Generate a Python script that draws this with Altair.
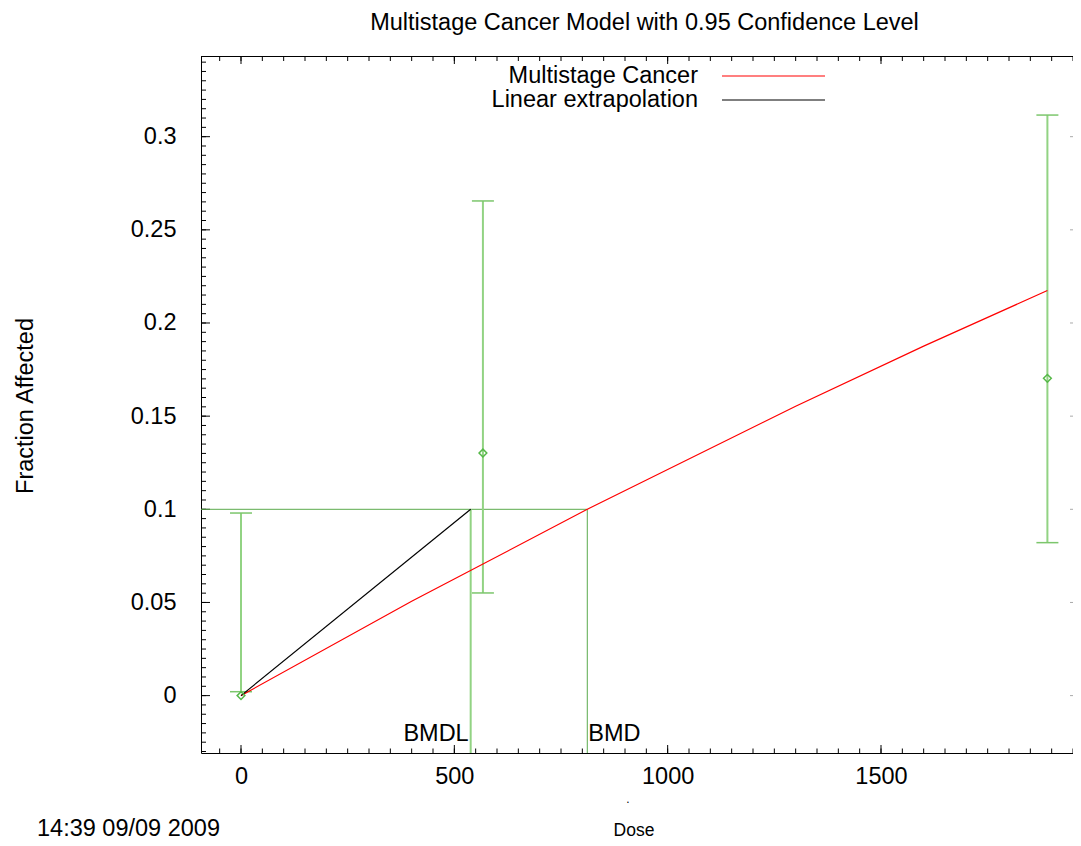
import altair as alt
import pandas as pd

# ---------------- data ----------------
dose = [0, 567, 1890]
frac = [0.0, 0.1302, 0.1703]
lower = [0.0021, 0.0551, 0.0821]
upper = [0.0980, 0.2655, 0.3116]

model_dose = [0, 400, 811.6, 1300, 1600, 1890]
model_frac = [0.0, 0.0506, 0.1, 0.1553, 0.1876, 0.2174]

bmd = 811.6
bmdl = 538.3
bmr = 0.1

x_major = [0, 500, 1000, 1500]
y_major = [0, 0.05, 0.1, 0.15, 0.2, 0.25, 0.3]
x_minor = list(range(-50, 1951, 50))
y_minor = [round(i * 0.005, 3) for i in range(-6, 69)]

title_text = "Multistage Cancer Model with 0.95 Confidence Level"
legend_labels = ["Multistage Cancer", "Linear extrapolation"]
legend_colors = ["#ff0000", "#000000"]
y_title = "Fraction Affected"
x_title = "Dose"
stamp = "14:39 09/09 2009"

# plot area is cut at the right edge of the page, as in the reference
W, H = 872, 697
X_DOMAIN = [-93.75, 1950.0]
Y_DOMAIN = [-0.0308, 0.3433]
FONT = "Liberation Sans"
FS = 23.5
BAR_GREEN = "#92d383"
DARK_GREEN = "#5aaa4c"
PT_GREEN = "#55b848"

xs = alt.Scale(domain=X_DOMAIN, nice=False, zero=False)
ys = alt.Scale(domain=Y_DOMAIN, nice=False, zero=False)

XAX = alt.Axis(values=x_major, format="d", ticks=False, tickSize=0, labelFontSize=FS,
               labelFont=FONT, labelColor="black", labelPadding=11, labelFlush=False,
               labelOverlap=False, domainColor="black", domainWidth=1, grid=False, title="")
YAX = alt.Axis(values=y_major, format="~g", ticks=False, tickSize=0, labelFontSize=FS,
               labelFont=FONT, labelColor="black", labelPadding=25, labelFlush=False,
               labelOverlap=False, domainColor="black", domainWidth=1, grid=False, title="")


def X(field):
    return alt.X(field, scale=xs, axis=XAX, title="")


def Y(field):
    return alt.Y(field, scale=ys, axis=YAX, title="")


pts = pd.DataFrame({"dose": dose, "frac": frac, "lower": lower, "upper": upper})
model = pd.DataFrame({"dose": model_dose, "frac": model_frac})
lin = pd.DataFrame({"dose": [0, bmdl], "frac": [0.0, bmr]})

top_border = alt.Chart(pd.DataFrame({"a": [0]})).mark_rule(color="black", strokeWidth=1).encode(
    x=alt.value(0), x2=alt.value(W), y=alt.value(0.5))

xmaj = pd.DataFrame({"v": x_major})
xmin = pd.DataFrame({"v": x_minor})
ymaj = pd.DataFrame({"v": y_major})
ymin = pd.DataFrame({"v": y_minor})


def xticks(df, y0, y1, color="black"):
    return alt.Chart(df).mark_rule(color=color, strokeWidth=1).encode(
        x=X("v:Q"), y=alt.value(y0), y2=alt.value(y1))


def yticks(df, x0, x1, color="black"):
    return alt.Chart(df).mark_rule(color=color, strokeWidth=1).encode(
        y=Y("v:Q"), x=alt.value(x0), x2=alt.value(x1))


tick_layers = [
    xticks(xmaj, H, H - 8), xticks(xmin[xmin.v <= X_DOMAIN[1]], H, H - 4.5),
    xticks(xmaj, 0, 8), xticks(xmin[xmin.v <= X_DOMAIN[1]], 0, 5),
    yticks(ymaj, 0, 9), yticks(ymin, 0, 5),
    yticks(ymaj, W - 3, W, color="#aaaaaa"),
]

# error bars
bars = alt.Chart(pts).mark_rule(color=BAR_GREEN, strokeWidth=2).encode(
    x=X("dose:Q"), y=Y("lower:Q"), y2="upper:Q")
cap_lo = alt.Chart(pts).mark_tick(orient="horizontal", size=22, thickness=1.5, color="#7cc66c", opacity=1).encode(
    x=X("dose:Q"), y=Y("lower:Q"))
cap_hi = alt.Chart(pts).mark_tick(orient="horizontal", size=22, thickness=1.5, color="#7cc66c", opacity=1).encode(
    x=X("dose:Q"), y=Y("upper:Q"))
diam = alt.Chart(pts).mark_point(shape="diamond", filled=False, size=60, strokeWidth=1.5,
                                 color=PT_GREEN, opacity=1).encode(
    x=X("dose:Q"), y=Y("frac:Q"))

# BMD / BMDL guide lines
hline = alt.Chart(pd.DataFrame({"x0": [X_DOMAIN[0]], "x1": [bmd], "y": [bmr]})).mark_rule(
    color=DARK_GREEN, strokeWidth=1).encode(
    x=X("x0:Q"), x2="x1:Q", y=Y("y:Q"))
v_bmd = alt.Chart(pd.DataFrame({"x": [bmd], "y0": [Y_DOMAIN[0]], "y1": [bmr]})).mark_rule(
    color=DARK_GREEN, strokeWidth=1).encode(
    x=X("x:Q"), y=Y("y0:Q"), y2="y1:Q")
v_bmdl = alt.Chart(pd.DataFrame({"x": [bmdl], "y0": [Y_DOMAIN[0]], "y1": [bmr]})).mark_rule(
    color=BAR_GREEN, strokeWidth=2).encode(
    x=X("x:Q"), y=Y("y0:Q"), y2="y1:Q")

model_line = alt.Chart(model).mark_line(color="#ff0000", strokeWidth=1.2).encode(
    x=X("dose:Q"), y=Y("frac:Q"))
lin_line = alt.Chart(lin).mark_line(color="black", strokeWidth=1.2).encode(
    x=X("dose:Q"), y=Y("frac:Q"))

lbl_bmdl = alt.Chart(pd.DataFrame({"x": [bmdl], "t": ["BMDL"]})).mark_text(
    font=FONT, fontSize=FS, align="right", baseline="alphabetic", dx=-2, color="black").encode(
    x=X("x:Q"), y=alt.value(685), text="t:N")
lbl_bmd = alt.Chart(pd.DataFrame({"x": [bmd], "t": ["BMD"]})).mark_text(
    font=FONT, fontSize=FS, align="left", baseline="alphabetic", dx=1, color="black").encode(
    x=X("x:Q"), y=alt.value(685), text="t:N")


def label(text, x, y, size, align="center", angle=0):
    kw = dict(font=FONT, fontSize=size, align=align, baseline="alphabetic", color="black")
    if angle:
        kw["angle"] = angle
    return alt.Chart(pd.DataFrame({"t": [text]})).mark_text(**kw).encode(
        x=alt.value(x), y=alt.value(y), text="t:N")


texts = [
    label(title_text, 443.5, -26.5, FS),
    label(legend_labels[0], 497, 27, FS, align="right"),
    label(legend_labels[1], 497, 51, FS, align="right"),
    label(y_title, -168, 350, FS, angle=270),
    label(x_title, 433, 780, 17.5),
    label(stamp, -164, 780, FS, align="left"),
    label(".", 427, 747, 12),
]

legend_lines = [
    alt.Chart(pd.DataFrame({"a": [0]})).mark_rule(color=legend_colors[0], strokeWidth=1.2).encode(
        x=alt.value(521), x2=alt.value(624), y=alt.value(20)),
    alt.Chart(pd.DataFrame({"a": [0]})).mark_rule(color=legend_colors[1], strokeWidth=1.2).encode(
        x=alt.value(521), x2=alt.value(624), y=alt.value(44)),
]

chart = alt.layer(
    top_border, *tick_layers,
    hline, v_bmd, v_bmdl,
    bars, cap_lo, cap_hi,
    model_line, lin_line, diam,
    lbl_bmdl, lbl_bmd,
    *texts, *legend_lines,
).properties(
    width=W, height=H,
    padding={"left": 193, "top": 48, "right": 0, "bottom": 90},
    autosize=alt.AutoSizeParams(type="none"),
    background="white",
).configure_view(stroke=None)

chart.save("out.html", embed_options={"renderer": "svg", "actions": False})
